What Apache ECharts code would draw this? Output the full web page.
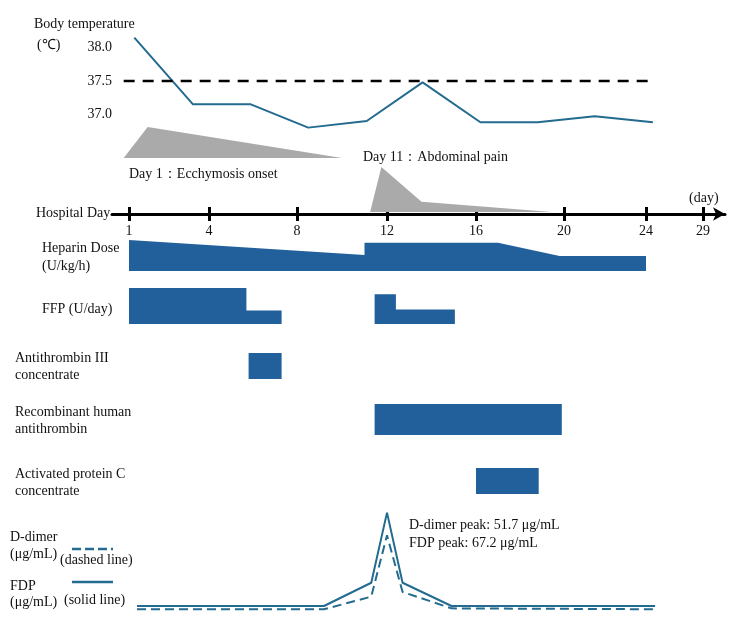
<!DOCTYPE html>
<html>
<head>
<meta charset="utf-8">
<script src="https://cdn.jsdelivr.net/npm/echarts@6/dist/echarts.min.js"></script>
<style>
  html, body { margin: 0; padding: 0; background: #fff; }
  #draw { width: 750px; height: 642px; }
</style>
</head>
<body>
<div id="draw"></div>
<script>
// hospital day ticks and where they sit on the (schematic, uneven) timeline
var dayTicks = [1, 4, 8, 12, 16, 20, 24, 29];
var tickPos = [17, 97, 185, 275, 364, 452, 534, 591];
var axisMin = 0, axisMax = 613;

// body temperature
var tempDays = [1.2, 3.4, 5.9, 8.5, 11.1, 13.6, 16.2, 18.8, 21.5, 24.6];
var tempValues = [38.15, 37.15, 37.15, 36.8, 36.9, 37.48, 36.88, 36.88, 36.97, 36.88];
var feverDays = [0.8, 24.6];
var feverLevel = [37.5, 37.5];

// symptoms (relative intensity)
var ecchymosisDays = [0.8, 1.7, 10.0];
var ecchymosisLevel = [0, 1, 0];
var painDays = [11.25, 11.75, 13.55, 19.45];
var painLevel = [0, 1, 0.23, 0];

// treatments
var heparinDays = [1, 11, 11, 17, 19.8, 24];
var heparinDose = [20, 10.3, 18.3, 18.3, 9.7, 9.7];
var ffpDays1 = [1, 5.7, 5.7, 7.3];
var ffpUnits1 = [8, 8, 3, 3];
var ffpDays2 = [11.45, 12.4, 12.4, 15.05];
var ffpUnits2 = [6.6, 6.6, 3.2, 3.2];
var at3Days = [5.8, 7.3];
var rhatDays = [11.45, 19.9];
var apcDays = [16, 18.85];

// fibrinolysis markers
var labDays = [1.3, 9.2, 11.3, 12, 12.7, 14.9, 24.8];
var fdp = [3.4, 3.4, 19.3, 67.2, 19.3, 3.4, 3.4];
var dDimer = [1.2, 1.2, 9.8, 51.7, 13.0, 1.8, 1.2];

var FONT = "Liberation Serif";
var LINE_BLUE = "#246b90";
var BAR_BLUE = "#22609b";
var GRAY = "#aaaaaa";

function pos(day) {
  var i = 0;
  while (i < dayTicks.length - 2 && day > dayTicks[i + 1]) i++;
  var d0 = dayTicks[i], d1 = dayTicks[i + 1];
  return tickPos[i] + (day - d0) / (d1 - d0) * (tickPos[i + 1] - tickPos[i]);
}
function pts(days, vals) {
  return days.map(function (d, i) { return [pos(d), vals[i]]; });
}
function flat(days) {
  return pts(days, days.map(function () { return 1; }));
}

// grid rows: [top, height]
var rows = [
  [14.4, 133.2], // 0 temperature
  [127, 31],     // 1 ecchymosis
  [167, 45],     // 2 abdominal pain
  [200, 14],     // 3 hospital day axis
  [240, 31],     // 4 heparin
  [288, 36],     // 5 FFP
  [353, 26],     // 6 antithrombin III
  [404, 31],     // 7 recombinant AT
  [468, 26],     // 8 APC
  [508.5, 102.5] // 9 D-dimer / FDP
];
var yRanges = [[36.5, 38.5], [0, 1], [0, 1], [0, 1], [0, 20], [0, 8], [0, 1], [0, 1], [0, 1], [0, 70]];

var grids = [], xAxes = [], yAxes = [];
rows.forEach(function (r, i) {
  grids.push({ left: 112, right: 25, top: r[0], height: r[1] });
  xAxes.push({ type: "value", gridIndex: i, min: axisMin, max: axisMax, show: false });
  yAxes.push({ type: "value", gridIndex: i, min: yRanges[i][0], max: yRanges[i][1], show: false });
});

// the visible hospital day axis
xAxes[3] = {
  type: "value", gridIndex: 3, min: axisMin, max: axisMax, position: "bottom",
  splitLine: { show: false },
  axisLine: { show: true, symbol: ["none", "arrow"], symbolSize: [10, 12],
    lineStyle: { color: "#000", width: 3 } },
  axisTick: { show: true, inside: true, length: 7, customValues: tickPos,
    lineStyle: { color: "#000", width: 3 } },
  axisLabel: { show: true, customValues: tickPos, margin: 10, color: "#111",
    fontFamily: FONT, fontSize: 14,
    formatter: function (v) {
      var k = tickPos.indexOf(v);
      return k >= 0 ? String(dayTicks[k]) : "";
    } }
};
xAxes.push({
  type: "value", gridIndex: 3, min: axisMin, max: axisMax, position: "bottom",
  splitLine: { show: false }, axisLine: { show: false }, axisLabel: { show: false },
  axisTick: { show: true, inside: false, length: 7, customValues: tickPos,
    lineStyle: { color: "#000", width: 3 } }
});

// temperature axis labels
yAxes[0] = {
  type: "value", gridIndex: 0, min: 36.5, max: 38.5, interval: 0.5,
  axisLine: { show: false }, axisTick: { show: false }, splitLine: { show: false },
  axisLabel: { margin: 0, color: "#111", fontFamily: FONT, fontSize: 14,
    formatter: function (v) { return (v >= 37 && v <= 38) ? v.toFixed(1) : ""; } }
};

function areaSeries(grid, data, color) {
  return { type: "line", xAxisIndex: grid, yAxisIndex: grid, data: data,
    symbol: "none", silent: true,
    lineStyle: { width: 0, color: color },
    areaStyle: { color: color, opacity: 1 } };
}

var series = [
  { type: "line", xAxisIndex: 0, yAxisIndex: 0, data: pts(tempDays, tempValues),
    symbol: "none", lineStyle: { color: LINE_BLUE, width: 2 } },
  { type: "line", xAxisIndex: 0, yAxisIndex: 0, data: pts(feverDays, feverLevel),
    symbol: "none", lineStyle: { color: "#000", width: 2.5, type: [11, 8] } },
  areaSeries(1, pts(ecchymosisDays, ecchymosisLevel), GRAY),
  areaSeries(2, pts(painDays, painLevel), GRAY),
  areaSeries(4, pts(heparinDays, heparinDose), BAR_BLUE),
  areaSeries(5, pts(ffpDays1, ffpUnits1), BAR_BLUE),
  areaSeries(5, pts(ffpDays2, ffpUnits2), BAR_BLUE),
  areaSeries(6, flat(at3Days), BAR_BLUE),
  areaSeries(7, flat(rhatDays), BAR_BLUE),
  areaSeries(8, flat(apcDays), BAR_BLUE),
  { type: "line", xAxisIndex: 9, yAxisIndex: 9, data: pts(labDays, fdp),
    symbol: "none", lineStyle: { color: LINE_BLUE, width: 2 } },
  { type: "line", xAxisIndex: 9, yAxisIndex: 9, data: pts(labDays, dDimer),
    symbol: "none", lineStyle: { color: LINE_BLUE, width: 2, type: [9, 5] } }
];

function txt(s, x, y) {
  return { type: "text", x: x, y: y, silent: true,
    style: { text: s, fill: "#111", font: "14px '" + FONT + "'", verticalAlign: "middle" } };
}

var graphics = [
  txt("Body temperature", 34, 24),
  txt("(℃)", 37, 45),
  txt("Day 1：Ecchymosis onset", 129, 174),
  txt("Day 11：Abdominal pain", 363, 157),
  txt("Hospital Day", 36, 213),
  txt("(day)", 689, 198),
  txt("Heparin Dose", 42, 248),
  txt("(U/kg/h)", 42, 266),
  txt("FFP (U/day)", 42, 309),
  txt("Antithrombin III", 15, 358),
  txt("concentrate", 15, 375),
  txt("Recombinant human", 15, 412),
  txt("antithrombin", 15, 429),
  txt("Activated protein C", 15, 474),
  txt("concentrate", 15, 491),
  txt("D-dimer", 10, 537),
  txt("(μg/mL)", 10, 554),
  txt("(dashed line)", 60, 560),
  txt("FDP", 10, 586),
  txt("(μg/mL)", 10, 602),
  txt("(solid line)", 64, 600),
  txt("D-dimer peak: 51.7 μg/mL", 409, 525),
  txt("FDP peak: 67.2 μg/mL", 409, 543),
  { type: "line", silent: true, shape: { x1: 72, y1: 549, x2: 113, y2: 549 },
    style: { stroke: LINE_BLUE, lineWidth: 2.5, lineDash: [9, 4] } },
  { type: "line", silent: true, shape: { x1: 72, y1: 582, x2: 113, y2: 582 },
    style: { stroke: LINE_BLUE, lineWidth: 2.5 } }
];

var chart = echarts.init(document.getElementById("draw"));
chart.setOption({
  animation: false,
  backgroundColor: "#fff",
  grid: grids,
  xAxis: xAxes,
  yAxis: yAxes,
  series: series,
  graphic: graphics
});
</script>
</body>
</html>
